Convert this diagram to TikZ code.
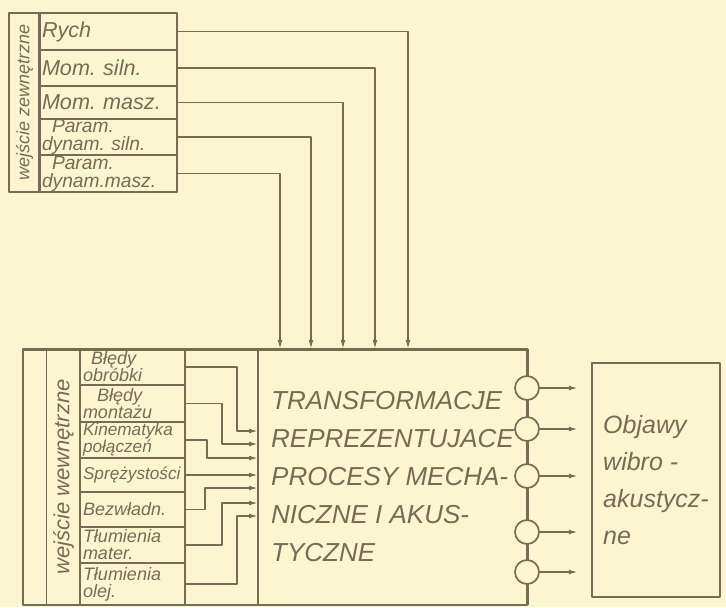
\documentclass[tikz,border=0pt]{standalone}
\usepackage{fontspec}
\setmainfont{Liberation Sans}
\usetikzlibrary{positioning,arrows.meta}
\frenchspacing

\definecolor{paper}{RGB}{252,246,208}
\definecolor{ink}{RGB}{118,108,86}

\tikzset{
  cell/.style={draw=ink, line width=0.85pt, inner xsep=1.5pt, inner ysep=0pt, outer sep=0pt,
    text=ink, align=left, font=\itshape\fontsize{9.6}{9}\selectfont},
  topcell/.style={cell, minimum width=69pt, text width=66pt},
  bigcell/.style={topcell, font=\itshape\fontsize{10.8}{10}\selectfont},
  lowcell/.style={cell, minimum width=52.5pt, text width=49.5pt,
    font=\itshape\fontsize{9}{8.5}\selectfont},
  sidecell/.style={draw=ink, line width=0.85pt, outer sep=0pt, rotate=90,
    text=ink, font=\itshape\fontsize{9}{9}\selectfont},
  wire/.style={draw=ink, line width=0.75pt, -{Latex[length=4.5pt,width=2.4pt]}},
  heavy/.style={draw=ink, line width=1.5pt},
  port/.style={circle, draw=ink, fill=paper, line width=0.85pt, minimum size=12pt, inner sep=0pt}
}

\begin{document}
\begin{tikzpicture}[x=0.5pt,y=-0.5pt,line join=round]
	\fill[paper] (0,0) rectangle (726,607);
	
	% Outer inputs (top table)
	\node[sidecell, minimum width=89.5pt, minimum height=14.5pt] (zew) at (24.5,102.5) {wejście zewnętrzne};
	\node[bigcell, minimum height=18.5pt] (rych) at (108,31.5) {Rych};
	\node[bigcell, minimum height=18pt, below=0pt of rych] (msiln) {Mom. siln.};
	\node[bigcell, minimum height=16.5pt, below=0pt of msiln] (mmasz) {Mom. masz.};
	\node[topcell, minimum height=18pt, below=0pt of mmasz] (psiln) {\hspace*{5pt}Param.\\dynam. siln.};
	\node[topcell, minimum height=18.5pt, below=0pt of psiln] (pmasz) {\hspace*{5pt}Param.\\dynam.masz.};
	
	% Main block
	\node[draw=ink, line width=0.85pt, minimum width=134.5pt, minimum height=128pt, outer sep=0pt,
	  text=ink, align=left, font=\itshape\fontsize{13}{19}\selectfont] (trans) at (392.5,477)
	  {TRANSFORMACJE\\REPREZENTUJACE\\PROCESY MECHA-\\NICZNE I AKUS-\\TYCZNE};
	\draw[draw=ink, line width=0.85pt] (23,349) rectangle (trans.south east);
	\draw[heavy] (23,349) -- (trans.north east) -- (trans.south east);
	
	% Inner inputs (bottom table)
	\node[sidecell, minimum width=128pt, minimum height=16.5pt, font=\itshape\fontsize{11}{11}\selectfont] (wew) at (63.5,477) {wejście wewnętrzne};
	\node[lowcell, minimum height=18pt] (bo) at (132.5,367) {\hspace*{4pt}Błędy\\obróbki};
	\node[lowcell, minimum height=18.5pt, below=0pt of bo] (bm) {\hspace*{7pt}Błędy\\montażu};
	\node[lowcell, minimum height=18pt, below=0pt of bm, font=\itshape\fontsize{8.6}{8.5}\selectfont] (kin) {Kinematyka\\połączeń};
	\node[lowcell, minimum height=17pt, below=0pt of kin, font=\itshape\fontsize{8.6}{8.5}\selectfont] (spr) {Sprężystości};
	\node[lowcell, minimum height=17.5pt, below=0pt of spr] (bez) {Bezwładn.};
	\node[lowcell, minimum height=18pt, below=0pt of bez] (tm) {Tłumienia\\mater.};
	\node[lowcell, minimum height=21pt, below=0pt of tm] (to) {Tłumienia\\olej.};
	
	% Entry points on the main block
	\coordinate (in1) at (280,349);
	\coordinate (in2) at (311,349);
	\coordinate (in3) at (343,349);
	\coordinate (in4) at (375,349);
	\coordinate (in5) at (408,349);
	\coordinate (t1) at (258,431);
	\coordinate (t2) at (258,444);
	\coordinate (t3) at (258,458);
	\coordinate (t4) at (258,475);
	\coordinate (t5) at (258,488);
	\coordinate (t6) at (258,503);
	\coordinate (t7) at (258,516);
	
	% Wires from the top table
	\draw[wire] (rych.east) -| (in5);
	\draw[wire] (msiln.east) -| (in4);
	\draw[wire] (mmasz.east) -| (in3);
	\draw[wire] (psiln.east) -| (in2);
	\draw[wire] (pmasz.east) -| (in1);
	
	% Wires from the bottom table
	\draw[wire] (bo.east) -- ++(52,0) |- (t1);
	\draw[wire] (bm.east) -- ++(37,0) |- (t2);
	\draw[wire] (kin.east) -- ++(22,0) |- (t3);
	\draw[wire] (spr.east) -- (t4);
	\draw[wire] (bez.east) -- ++(20,0) |- (t5);
	\draw[wire] (tm.east) -- ++(37,0) |- (t6);
	\draw[wire] (to.east) -- ++(52,0) |- (t7);
	
	% Outputs
	\node[port] (o1) at (527,388) {};
	\node[port] (o2) at (527,429) {};
	\node[port] (o3) at (527,476) {};
	\node[port] (o4) at (527,532) {};
	\node[port] (o5) at (527,572) {};
	\foreach \o in {o1,o2,o3,o4,o5}
	  \draw[wire] (\o.east) -- ++(38,0);
	
	\node[draw=ink, line width=0.85pt, minimum width=64pt, minimum height=117pt, text=ink,
	  align=left, font=\itshape\fontsize{12.5}{18.5}\selectfont] (objawy) at (656,480)
	  {Objawy\\wibro -\\akustycz-\\ne};
\end{tikzpicture}
\end{document}
